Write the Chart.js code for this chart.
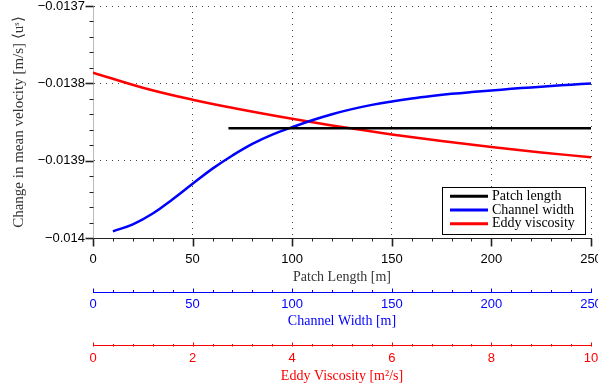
<!DOCTYPE html>
<html>
<head>
<meta charset="utf-8">
<script src="https://cdn.jsdelivr.net/npm/chart.js@4.4.1/dist/chart.umd.min.js"></script>
<style>
html, body { margin:0; padding:0; background:#fff; }
</style>
</head>
<body>
<canvas id="c" width="598" height="391"></canvas>
<script>
// ---------------------------------------------
//  data
// ---------------------------------------------
var patchLength = [68, 100, 150, 200, 250]
var patchVel = [-0.013858, -0.013858, -0.013858, -0.013858, -0.013858]

var channelWidth = [10, 20, 30, 40, 50, 60, 70, 80, 90, 100, 110, 120, 130, 140, 150, 160, 170, 180, 190, 200, 210, 220, 230, 240, 250]
var channelVel = [-0.013991, -0.013982, -0.013968, -0.0139495, -0.0139295, -0.013910, -0.013893, -0.013878, -0.013866,
    -0.0138565, -0.0138475, -0.0138397, -0.0138332, -0.0138277, -0.0138232, -0.0138194, -0.0138162, -0.0138134,
    -0.0138111, -0.0138091, -0.0138070, -0.0138051, -0.0138033, -0.0138016, -0.0138000]

var eddyVisc = [0, 1, 2, 3, 4, 5, 6, 7, 8, 9, 10]
var eddyVel = [-0.013786, -0.0138055, -0.013821, -0.013834, -0.0138457, -0.0138564, -0.0138659,
    -0.0138744, -0.0138821, -0.0138891, -0.0138953]

var yTicks = [-0.014, -0.0139, -0.0138, -0.0137]
var lengthTicks = [0, 50, 100, 150, 200, 250]
var eddyTicks = [0, 2, 4, 6, 8, 10]

var SANS = '"Liberation Sans", Arial, sans-serif'
var SERIF = '"Liberation Serif", "Times New Roman", serif'
var BLUE = '#0000ff'
var RED = '#ff0000'

function pts(xs, ys) {
    var out = []
    for (var i = 0; i < xs.length; i++) out.push({ x: xs[i], y: ys[i] })
    return out
}

function inList(list, v) {
    for (var i = 0; i < list.length; i++) {
        if (Math.abs(list[i] - v) < 1e-9) return true
    }
    return false
}

function fmtY(v) {
    for (var i = 0; i < yTicks.length; i++) {
        if (Math.abs(yTicks[i] - v) < 1e-9) return '\u2212' + String(Math.abs(yTicks[i]))
    }
    return ''
}

// tick marks: majors long, minors short
var tickMarks = {
    id: 'tickMarks',
    afterDraw: function(chart) {
        var ctx = chart.ctx
        var defs = [
            { id: 'x', color: '#222', dir: 1, minor: 3, major: 8 },
            { id: 'xb', color: BLUE, dir: -1, minor: 2.5, major: 4 },
            { id: 'xr', color: RED, dir: -1, minor: 2.5, major: 4 }
        ]
        ctx.save()
        defs.forEach(function(d) {
            var s = chart.scales[d.id]
            var y0 = Math.round(s.top) + 0.5
            s.ticks.forEach(function(t) {
                var big = t.label !== ''
                var px = Math.round(s.getPixelForValue(t.value)) + 0.5
                ctx.strokeStyle = d.color
                ctx.lineWidth = big && d.id === 'x' ? 1.6 : 1
                ctx.beginPath()
                ctx.moveTo(px, y0)
                ctx.lineTo(px, y0 + d.dir * (big ? d.major : d.minor))
                ctx.stroke()
            })
        })
        var sy = chart.scales.y
        var x0 = Math.round(sy.right) + 0.5
        sy.ticks.forEach(function(t) {
            var big = t.label !== ''
            var py = Math.round(sy.getPixelForValue(t.value)) + 0.5
            ctx.strokeStyle = '#222'
            ctx.lineWidth = big ? 1.6 : 1
            ctx.beginPath()
            ctx.moveTo(x0, py)
            ctx.lineTo(x0 - (big ? 8 : 4), py)
            ctx.stroke()
        })
        ctx.restore()
    }
}

// boxed legend inside the lower right corner of the plot
var boxLegend = {
    id: 'boxLegend',
    afterDraw: function(chart) {
        var ctx = chart.ctx
        var a = chart.chartArea
        var w = 143, h = 47
        var left = a.right - 6 - w
        var top = a.bottom - 4 - h
        ctx.save()
        ctx.fillStyle = '#fff'
        ctx.fillRect(left, top, w, h)
        ctx.strokeStyle = '#000'
        ctx.lineWidth = 1
        ctx.strokeRect(Math.round(left) + 0.5, Math.round(top) + 0.5, w, h)
        ctx.font = '14px ' + SERIF
        ctx.textBaseline = 'middle'
        ctx.fillStyle = '#000'
        chart.data.datasets.forEach(function(ds, i) {
            var y = top + 9 + i * 13.7
            ctx.strokeStyle = ds.borderColor
            ctx.lineWidth = 3
            ctx.beginPath()
            ctx.moveTo(left + 8, y)
            ctx.lineTo(left + 46, y)
            ctx.stroke()
            ctx.fillText(ds.label, left + 50, y)
        })
        ctx.restore()
    }
}

var dotted = function(ok) { return ok ? '#444' : 'rgba(0,0,0,0)' }

new Chart(document.getElementById('c'), {
    type: 'line',
    data: {
        datasets: [
            { label: 'Patch length', data: pts(patchLength, patchVel), xAxisID: 'x', borderColor: '#000', borderWidth: 2.5, pointRadius: 0 },
            { label: 'Channel width', data: pts(channelWidth, channelVel), xAxisID: 'x', borderColor: BLUE, borderWidth: 2.5, pointRadius: 0, tension: 0.4 },
            { label: 'Eddy viscosity', data: pts(eddyVisc, eddyVel), xAxisID: 'xr', borderColor: RED, borderWidth: 2.5, pointRadius: 0, tension: 0.4 }
        ]
    },
    options: {
        responsive: false,
        animation: false,
        devicePixelRatio: 1,
        layout: { padding: { top: 6, right: 7, left: 0, bottom: 0 } },
        plugins: { legend: { display: false }, tooltip: { enabled: false } },
        scales: {
            x: {
                type: 'linear', position: 'bottom', min: 0, max: 250,
                ticks: {
                    stepSize: 10, autoSkip: false, maxRotation: 0, padding: 13, color: '#000',
                    font: { family: SANS, size: 13 },
                    callback: function(v) { return inList(lengthTicks, v) ? String(v) : '' }
                },
                grid: {
                    drawTicks: false,
                    color: function(c) { return dotted(c.tick && c.tick.value > 0 && inList(lengthTicks, c.tick.value)) }
                },
                border: { display: true, color: '#222', dash: [1, 5] },
                title: { display: true, text: 'Patch Length [m]', color: '#333', font: { family: SERIF, size: 14 }, padding: { top: 0, bottom: 7 } },
                afterFit: function(s) { s.height = 54; s.paddingLeft = 0; s.paddingRight = 0 }
            },
            xb: {
                type: 'linear', position: 'bottom', min: 0, max: 250,
                ticks: {
                    stepSize: 10, autoSkip: false, maxRotation: 0, padding: 4, color: BLUE,
                    font: { family: SANS, size: 13 },
                    callback: function(v) { return inList(lengthTicks, v) ? String(v) : '' }
                },
                grid: { drawTicks: false, drawOnChartArea: false },
                border: { display: true, color: BLUE },
                title: { display: true, text: 'Channel Width [m]', color: BLUE, font: { family: SERIF, size: 14 }, padding: { top: 0, bottom: 16 } },
                afterFit: function(s) { s.height = 53.4; s.paddingLeft = 0; s.paddingRight = 0 }
            },
            xr: {
                type: 'linear', position: 'bottom', min: 0, max: 10,
                ticks: {
                    stepSize: 0.4, autoSkip: false, maxRotation: 0, padding: 5, color: RED,
                    font: { family: SANS, size: 13 },
                    callback: function(v) { return inList(eddyTicks, v) ? String(Math.round(v)) : '' }
                },
                grid: { drawTicks: false, drawOnChartArea: false },
                border: { display: true, color: RED },
                title: { display: true, text: 'Eddy Viscosity [m\u00b2/s]', color: RED, font: { family: SERIF, size: 14 }, padding: { top: 0, bottom: 6 } },
                afterFit: function(s) { s.height = 45.3; s.paddingLeft = 0; s.paddingRight = 0 }
            },
            y: {
                type: 'linear', position: 'left', min: -0.014, max: -0.0137,
                ticks: {
                    stepSize: 0.00002, autoSkip: false, padding: 8, color: '#000',
                    font: { family: SANS, size: 13 },
                    callback: function(v) { return fmtY(v) }
                },
                grid: {
                    drawTicks: false,
                    color: function(c) { return dotted(c.tick && c.tick.value > -0.01399 && fmtY(c.tick.value) !== '') }
                },
                border: { display: true, color: '#bbb', dash: [1, 5] },
                title: { display: true, text: 'Change in mean velocity [m/s] \u27e8u\u02e2\u27e9', color: '#333', font: { family: SERIF, size: 15 }, padding: { top: 10, bottom: 0 } },
                afterFit: function(s) { s.width = 93; s.paddingTop = 0; s.paddingBottom = 0 }
            }
        }
    },
    plugins: [tickMarks, boxLegend]
})
</script>
</body>
</html>
